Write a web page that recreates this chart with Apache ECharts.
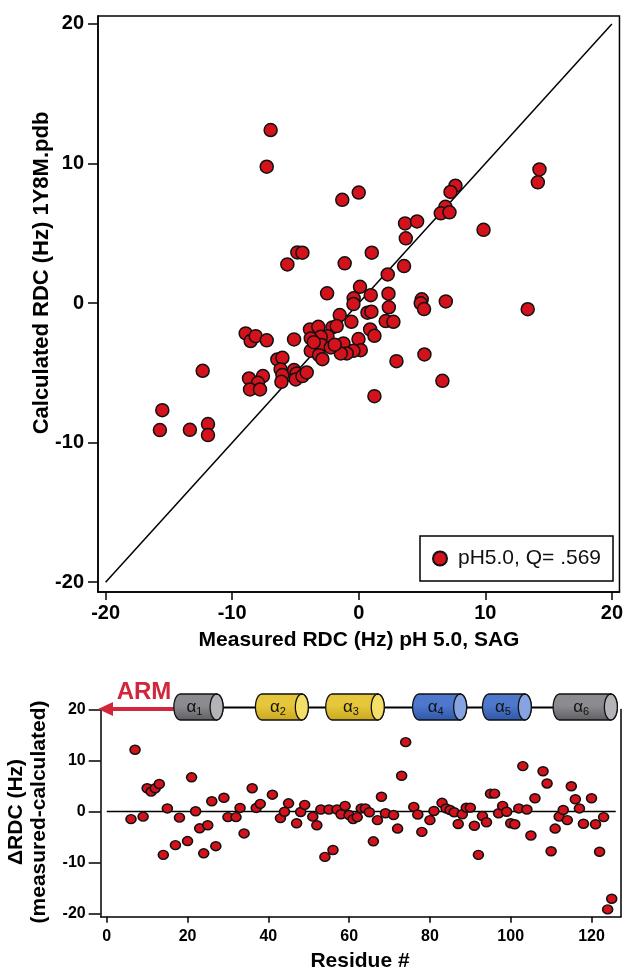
<!DOCTYPE html>
<html><head><meta charset="utf-8">
<script src="https://cdn.jsdelivr.net/npm/echarts@6/dist/echarts.min.js"></script>
<style>html,body{margin:0;padding:0;background:#fff}#c{width:626px;height:970px}</style>
</head><body><div id="c"></div>
<script>
// ---- top panel: measured vs calculated RDC (Hz) ----
const measured = [-6.96,-7.27,-1.3,0.0,14.28,14.15,7.64,7.25,6.85,6.48,7.17,9.86,3.66,4.61,3.72,-4.85,-4.45,-5.64,1.03,-1.11,
  3.58,2.29,0.1,-2.5,-0.4,-0.42,0.95,2.35,2.38,4.98,4.9,5.16,6.88,13.35,0.69,1.0,-0.58,-1.5,2.13,2.74,
  0.9,1.24,-0.02,-1.21,0.16,-0.42,-0.95,-1.42,2.98,5.19,6.61,1.24,-3.85,-3.19,-2.08,-1.74,-2.47,-3.0,-3.79,-2.95,
  -2.21,-3.79,-3.14,-2.87,-1.9,-3.55,-8.93,-8.54,-8.14,-7.27,-5.11,-6.43,-6.03,-6.17,-6.03,-6.11,-5.11,-4.9,-4.98,-4.45,
  -4.11,-8.67,-7.57,-7.96,-8.59,-7.8,-12.33,-15.52,-15.71,-13.34,-11.91,-11.91];
const calculated = [12.40,9.77,7.4,7.92,9.58,8.65,8.41,7.96,6.9,6.43,6.5,5.25,5.71,5.85,4.64,3.63,3.61,2.77,3.61,2.85,
  2.65,2.05,1.17,0.7,0.34,-0.07,0.57,0.67,-0.3,0.27,-0.02,-0.43,0.12,-0.44,-0.69,-0.62,-1.34,-0.86,-1.29,-1.34,
  -1.89,-2.34,-2.58,-2.89,-3.37,-3.42,-3.61,-3.61,-4.16,-3.68,-5.57,-6.67,-1.89,-1.7,-1.74,-1.65,-2.37,-2.42,-2.53,-3.01,
  -3.18,-3.42,-3.73,-4.02,-2.98,-2.8,-2.17,-2.72,-2.37,-2.67,-2.6,-4.04,-3.92,-4.75,-5.16,-5.64,-4.8,-5.04,-5.47,-5.23,
  -4.97,-5.4,-5.23,-5.71,-6.19,-6.19,-4.85,-7.67,-9.1,-9.08,-8.67,-9.46];
const identityLine = [[-20,-20],[20,20]];
const rdcTicks = [-20,-10,0,10,20];

// ---- bottom panel: residue vs delta RDC ----
const residues = [6,7,9,10,11,12,13,14,15,17,18,20,21,22,23,24,25,26,27,29,
  30,32,33,34,36,37,38,41,43,44,45,47,48,49,51,52,53,54,55,56,
  57,58,59,60,61,62,63,64,65,66,67,68,69,71,72,73,74,76,77,78,
  80,81,83,84,85,86,87,88,89,90,91,92,93,94,95,96,97,98,99,100,
  101,102,103,104,105,106,108,109,110,111,112,113,114,115,116,117,118,120,121,122,
  123,124,125];
const deltaRDC = [-1.5,12.1,-1.0,4.55,3.9,4.55,5.4,-8.5,0.6,-6.6,-1.2,-5.8,6.7,0.05,-3.3,-8.2,-2.7,2.0,-6.8,2.7,
  -1.1,-1.1,0.7,-4.3,4.55,0.7,1.5,3.3,-1.3,-0.05,1.6,-2.3,-0.1,1.3,-1.0,-2.7,0.4,-8.9,0.4,-7.55,
  0.4,-0.55,1.1,-0.7,-1.5,-1.1,0.6,0.6,-0.15,-5.85,-1.7,2.9,-0.35,-0.7,-3.35,7.0,13.6,0.9,-0.6,-4.0,
  -1.7,0.1,1.7,0.6,0.3,-0.15,-2.45,-0.55,0.75,0.75,-2.8,-8.5,-0.9,-2.1,3.5,3.5,-0.35,1.1,-0.05,-2.3,
  -2.5,0.6,8.9,0.4,-4.7,2.6,7.9,5.5,-7.8,-3.35,-1.0,0.3,-1.7,4.95,2.4,0.6,-2.4,2.6,-2.5,-7.9,
  -1.1,-19.2,-17.1];
const zeroLine = [[0,0],[126,0]];
const residueTicks = [0,20,40,60,80,100,120];
const deltaTicks = [-20,-10,0,10,20];

// ---- secondary structure (residue ranges) ----
const helixNames = ['1','2','3','4','5','6'];
const helixStart = [16.6,36.8,54.2,75.7,93.0,110.5];
const helixEnd = [28.8,49.9,68.7,89.1,105.1,126.4];
const helixBody = [['#8c8c90','#5e5e62'],['#e6c63a','#c9a81e'],['#e6c63a','#c9a81e'],['#4d78cc','#2f56a8'],['#4d78cc','#2f56a8'],['#8c8c90','#5e5e62']];
const helixCap = ['#b4b4b8','#f5df66','#f5df66','#86a4e2','#86a4e2','#b4b4b8'];

const FONT = '"Liberation Sans", Arial, Helvetica, sans-serif';
const RED = '#d3121c';

const chart = echarts.init(document.getElementById('c'), null, {renderer:'canvas'});
const tickLab = (size, margin, vals) => ({customValues: vals, fontSize: size, fontWeight: 'bold', color: '#000', fontFamily: FONT, margin: margin});

chart.setOption({
  animation: false,
  backgroundColor: '#fff',
  grid: [
    {left: 98, top: 16, width: 522, height: 576, show: true, borderColor: '#000', borderWidth: 1.5, backgroundColor: 'transparent'},
    {left: 100.7, top: 709.5, width: 520.3, height: 207.2}
  ],
  legend: {
    data: ['pH5.0, Q= .569'],
    left: 420, top: 536,
    padding: [12, 12, 12, 12],
    borderColor: '#000', borderWidth: 1.5,
    itemWidth: 14, itemHeight: 14,
    icon: 'circle',
    textStyle: {fontSize: 21, fontFamily: FONT, color: '#111', padding: [0,0,0,6]}
  },
  xAxis: [
    {gridIndex: 0, type: 'value', min: -20.6, max: 20.6,
     axisLine: {show: true, onZero: false, lineStyle: {color: '#000', width: 1.5}},
     axisTick: {show: true, customValues: rdcTicks, length: 8, lineStyle: {color: '#000', width: 1.5}},
     axisLabel: tickLab(20, 11, rdcTicks), splitLine: {show: false}},
    {gridIndex: 1, type: 'value', min: -1.5, max: 127.3,
     axisLine: {show: true, onZero: false, lineStyle: {color: '#000', width: 1.5}},
     axisTick: {show: true, customValues: residueTicks, length: 6, lineStyle: {color: '#000', width: 1.5}},
     axisLabel: tickLab(16, 12, residueTicks), splitLine: {show: false}}
  ],
  yAxis: [
    {gridIndex: 0, type: 'value', min: -20.7, max: 20.57,
     axisLine: {show: true, onZero: false, lineStyle: {color: '#000', width: 1.5}},
     axisTick: {show: true, customValues: rdcTicks, length: 10, lineStyle: {color: '#000', width: 1.5}},
     axisLabel: tickLab(20, 14, rdcTicks), splitLine: {show: false}},
    {gridIndex: 1, type: 'value', min: -20.63, max: 20.0,
     axisLine: {show: true, onZero: false, lineStyle: {color: '#000', width: 1.5}},
     axisTick: {show: true, customValues: deltaTicks, length: 12, lineStyle: {color: '#000', width: 1.5}},
     axisLabel: tickLab(16, 15, deltaTicks), splitLine: {show: false}},
    {gridIndex: 1, type: 'value', min: -20.63, max: 20.0, position: 'right',
     axisLine: {show: true, onZero: false, lineStyle: {color: '#000', width: 1.5}},
     axisTick: {show: false}, axisLabel: {show: false}, splitLine: {show: false}}
  ],
  series: [
    {type: 'line', xAxisIndex: 0, yAxisIndex: 0, data: identityLine, symbol: 'none', silent: true, z: 2,
     lineStyle: {color: '#000', width: 1.5}},
    {name: 'pH5.0, Q= .569', type: 'scatter', xAxisIndex: 0, yAxisIndex: 0, z: 3,
     data: measured.map((m, i) => [m, calculated[i]]), symbolSize: 13,
     itemStyle: {color: RED, borderColor: '#111', borderWidth: 1.5, opacity: 1}},
    {type: 'line', xAxisIndex: 1, yAxisIndex: 1, data: zeroLine, symbol: 'none', silent: true, z: 2,
     lineStyle: {color: '#000', width: 1.5}},
    {type: 'scatter', xAxisIndex: 1, yAxisIndex: 1, z: 3,
     data: residues.map((r, i) => [r, deltaRDC[i]]), symbolSize: [10, 9],
     itemStyle: {color: RED, borderColor: '#111', borderWidth: 1.5, opacity: 1}}
  ]
});

// ---- annotations: axis titles, helices, ARM arrow ----
function ellipsePts(cx, cy, rx, ry, a0, a1, n) {
  const p = [];
  for (let k = 0; k <= n; k++) {
    const a = a0 + (a1 - a0) * k / n;
    p.push([cx + rx * Math.cos(a), cy + ry * Math.sin(a)]);
  }
  return p;
}
const g = [];
const txt = (text, x, y, size, rot) => ({type: 'text', x: x, y: y, rotation: rot || 0, z: 10,
  style: {text: text, fontSize: size, fontWeight: 'bold', fontFamily: FONT, fill: '#000', align: 'center', verticalAlign: 'middle'}});
g.push(txt('Calculated RDC (Hz) 1Y8M.pdb', 42, 273, 22, Math.PI / 2));
g.push(txt('Measured RDC (Hz) pH 5.0, SAG', 359, 640, 21));
g.push(txt('ΔRDC (Hz)', 16, 812, 21, Math.PI / 2));
g.push(txt('(measured-calculated)', 39, 812, 21, Math.PI / 2));
g.push(txt('Residue #', 360, 961, 21));

const yc = 707, hh = 13, rx = 6.5;
const px = r => chart.convertToPixel({gridIndex: 1}, [r, 0])[0];
// backbone
g.push({type: 'line', z: 11, shape: {x1: px(helixEnd[0]), y1: yc + 0.5, x2: px(helixStart[5]), y2: yc + 0.5},
  style: {stroke: '#000', lineWidth: 2.2}});
helixNames.forEach((nm, i) => {
  const x0 = px(helixStart[i]), x1 = px(helixEnd[i]);
  const body = ellipsePts(x0 + rx, yc, rx, hh, Math.PI / 2, Math.PI * 1.5, 16)
    .concat(ellipsePts(x1 - rx, yc, rx, hh, -Math.PI / 2, Math.PI / 2, 16));
  g.push({type: 'polygon', z: 12, shape: {points: body},
    style: {fill: new echarts.graphic.LinearGradient(0, 0, 0, 1, [
      {offset: 0, color: helixBody[i][0]}, {offset: 0.45, color: helixBody[i][0]}, {offset: 1, color: helixBody[i][1]}]),
      stroke: '#111', lineWidth: 1.3}});
  g.push({type: 'polygon', z: 13, shape: {points: ellipsePts(x1 - rx, yc, rx, hh, 0, Math.PI * 2, 32)},
    style: {fill: helixCap[i], stroke: '#111', lineWidth: 1.3}});
  g.push({type: 'text', z: 14, x: (x0 + x1) / 2 - 4, y: yc,
    style: {text: '{a|α}{s|' + nm + '}', align: 'center', verticalAlign: 'middle', fontFamily: FONT,
      rich: {a: {fontSize: 17, fill: '#111', fontFamily: FONT}, s: {fontSize: 11, fill: '#111', fontFamily: FONT, padding: [9, 0, 0, 0]}}}});
});
// ARM arrow
const ARMRED = '#d2263c';
const ax0 = px(helixStart[0]);
g.push({type: 'line', z: 11, shape: {x1: 110, y1: 709, x2: ax0, y2: 709}, style: {stroke: ARMRED, lineWidth: 4}});
g.push({type: 'polygon', z: 11, shape: {points: [[98, 709], [113, 702], [113, 716]]}, style: {fill: ARMRED}});
g.push({type: 'text', z: 11, x: 144, y: 692,
  style: {text: 'ARM', fontSize: 24, fontWeight: 'bold', fontFamily: FONT, fill: ARMRED, align: 'center', verticalAlign: 'middle'}});

chart.setOption({graphic: g});
</script>
</body></html>
